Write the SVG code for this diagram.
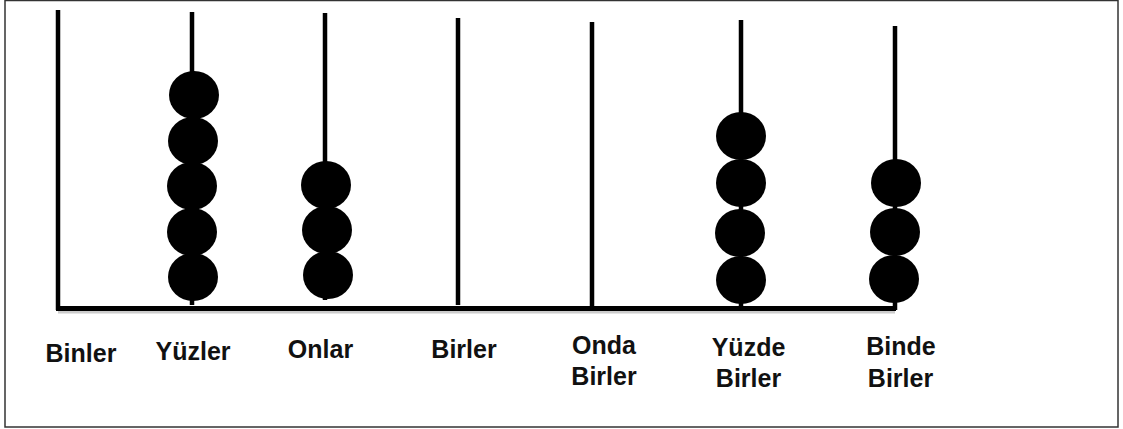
<svg xmlns="http://www.w3.org/2000/svg" width="1123" height="429" viewBox="0 0 1123 429">
<style>
.rod{stroke:#000;stroke-width:4.5;fill:none}
.bead{fill:#000}
.lbl{font-family:"Liberation Sans",Arial,sans-serif;font-weight:bold;font-size:25px;fill:#111;text-anchor:middle}
</style>
<rect x="0" y="0" width="1123" height="429" fill="#fff"/>
<rect x="5" y="0.5" width="1113" height="426.5" fill="none" stroke="#333" stroke-width="1.5"/>
<g id="base">
<line x1="58" y1="312" x2="895" y2="312" stroke="#ccc" stroke-width="3"/>
<line x1="56" y1="308.5" x2="896" y2="308.5" stroke="#000" stroke-width="5"/>
</g>
<g id="binler">
<line class="rod" x1="58" y1="10" x2="58" y2="310"/>
<text class="lbl" x="81" y="362">Binler</text>
</g>
<g id="yuzler">
<line class="rod" x1="192" y1="12" x2="192" y2="305"/>
<ellipse class="bead" cx="194" cy="95" rx="25" ry="24"/>
<ellipse class="bead" cx="193" cy="141" rx="25" ry="24"/>
<ellipse class="bead" cx="192" cy="186" rx="25" ry="24"/>
<ellipse class="bead" cx="192" cy="232" rx="25" ry="24"/>
<ellipse class="bead" cx="193" cy="277" rx="25" ry="24"/>
<text class="lbl" x="193" y="360">Yüzler</text>
</g>
<g id="onlar">
<line class="rod" x1="325" y1="13" x2="325" y2="300"/>
<ellipse class="bead" cx="326" cy="185" rx="25" ry="24"/>
<ellipse class="bead" cx="327" cy="230" rx="25" ry="24"/>
<ellipse class="bead" cx="328" cy="275" rx="25" ry="24"/>
<text class="lbl" x="320.5" y="358">Onlar</text>
</g>
<g id="birler">
<line class="rod" x1="458" y1="18" x2="458" y2="305"/>
<text class="lbl" x="464" y="358">Birler</text>
</g>
<g id="onda">
<line class="rod" x1="592" y1="22" x2="592" y2="308"/>
<text class="lbl" x="604" y="354">Onda</text>
<text class="lbl" x="604" y="385">Birler</text>
</g>
<g id="yuzde">
<line class="rod" x1="741" y1="20" x2="741" y2="306"/>
<ellipse class="bead" cx="741" cy="136" rx="25" ry="24"/>
<ellipse class="bead" cx="741" cy="183" rx="25" ry="24"/>
<ellipse class="bead" cx="740" cy="233" rx="25" ry="24"/>
<ellipse class="bead" cx="741" cy="280" rx="25" ry="24"/>
<text class="lbl" x="748.5" y="356">Yüzde</text>
<text class="lbl" x="748.5" y="387">Birler</text>
</g>
<g id="binde">
<line class="rod" x1="895" y1="26" x2="895" y2="310"/>
<ellipse class="bead" cx="896" cy="183" rx="25" ry="24"/>
<ellipse class="bead" cx="895" cy="232" rx="25" ry="24"/>
<ellipse class="bead" cx="894" cy="279" rx="25" ry="24"/>
<text class="lbl" x="901" y="355">Binde</text>
<text class="lbl" x="900.5" y="387">Birler</text>
</g>
<g id="connectors"></g>
</svg>
